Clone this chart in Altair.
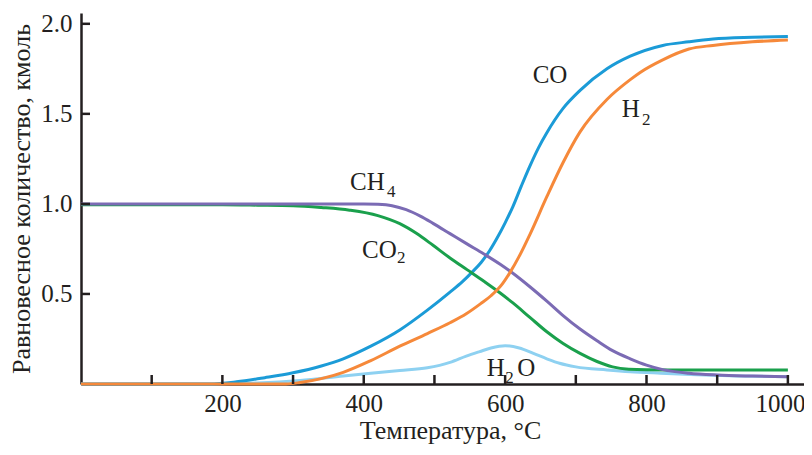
import altair as alt
import pandas as pd

# ---- data (temperature °C, amount kmol) ----
co_T = [0, 100, 182, 220, 260, 300, 340, 371, 410, 451, 490, 522, 540, 553, 566, 578, 590, 600, 611, 623, 635, 647, 659, 682, 706, 744, 777, 823, 860, 894, 950, 1000]
co_v = [0, 0, 0, 0.012, 0.035, 0.062, 0.10, 0.14, 0.21, 0.30, 0.41, 0.51, 0.57, 0.62, 0.675, 0.74, 0.82, 0.895, 0.985, 1.10, 1.21, 1.31, 1.395, 1.53, 1.63, 1.75, 1.82, 1.88, 1.90, 1.915, 1.925, 1.93]

h2_T = [0, 100, 200, 290, 310, 340, 371, 410, 451, 490, 522, 545, 565, 580, 595, 607, 620, 635, 659, 682, 706, 744, 777, 791, 823, 860, 894, 950, 1000]
h2_v = [0, 0, 0, 0, 0.008, 0.03, 0.065, 0.13, 0.21, 0.28, 0.34, 0.39, 0.445, 0.49, 0.55, 0.62, 0.71, 0.83, 1.04, 1.23, 1.40, 1.58, 1.69, 1.73, 1.80, 1.86, 1.88, 1.90, 1.91]

ch4_T = [0, 100, 200, 300, 400, 420, 440, 460, 480, 498, 522, 546, 570, 593, 611, 635, 659, 682, 706, 730, 752, 777, 800, 823, 860, 900, 950, 1000]
ch4_v = [1.0, 1.0, 1.0, 1.0, 1.0, 0.998, 0.99, 0.968, 0.932, 0.892, 0.835, 0.778, 0.722, 0.665, 0.615, 0.54, 0.46, 0.38, 0.305, 0.24, 0.185, 0.14, 0.105, 0.08, 0.06, 0.05, 0.044, 0.04]

co2_T = [0, 100, 200, 250, 300, 340, 380, 420, 451, 475, 498, 522, 546, 570, 593, 611, 635, 659, 682, 706, 730, 752, 775, 800, 850, 1000]
co2_v = [0.995, 0.995, 0.995, 0.993, 0.99, 0.98, 0.965, 0.935, 0.89, 0.835, 0.77, 0.70, 0.635, 0.57, 0.505, 0.45, 0.37, 0.29, 0.225, 0.17, 0.125, 0.095, 0.082, 0.079, 0.078, 0.078]

h2o_T = [0, 150, 200, 250, 310, 371, 410, 451, 490, 522, 545, 564, 580, 600, 620, 640, 659, 677, 700, 744, 777, 820, 871, 930, 1000]
h2o_v = [0, 0, 0.002, 0.006, 0.02, 0.045, 0.06, 0.075, 0.09, 0.12, 0.155, 0.18, 0.20, 0.213, 0.20, 0.17, 0.14, 0.115, 0.095, 0.078, 0.068, 0.06, 0.052, 0.045, 0.04]

# draw order (bottom to top) and colours
series = [
    ("H2O", h2o_T, h2o_v, "#8ed1f1"),
    ("CO", co_T, co_v, "#1b9bd7"),
    ("CO2", co2_T, co2_v, "#1aa04c"),
    ("CH4", ch4_T, ch4_v, "#7b6bb4"),
    ("H2", h2_T, h2_v, "#f6893a"),
]

# labels: text pieces (base + subscript) anchored in data units
lab_text = ["CO", "H", "2", "CH", "4", "CO", "2", "H", "2", "O"]
lab_T    = [639, 765, 793.5, 380.5, 433, 397.5, 447, 574, 600, 617]
lab_v    = [1.672, 1.483, 1.439, 1.078, 1.039, 0.70, 0.672, 0.044, 0.006, 0.044]
lab_size = [25, 25, 17, 25, 17, 25, 17, 25, 17, 25]

x_ticks = [100, 200, 300, 400, 500, 600, 700, 800, 900, 1000]
y_ticks = [0.5, 1.0, 1.5, 2.0]
x_labels = [200, 400, 600, 800, 1000]

INK = "#231f20"
FONT = "Liberation Serif"
W, H = 723, 371

xscale = alt.Scale(domain=[0, 1022.8], nice=False, zero=False)
yscale = alt.Scale(domain=[0, 2.06], nice=False, zero=False)

xaxis = alt.Axis(values=x_labels, format="d", ticks=False, grid=False,
                 title="Температура, °C", labelFont=FONT, labelFontSize=25,
                 labelColor=INK, labelPadding=7, labelFlush=False,
                 labelOffset={"condition": {"test": "datum.value == 1000", "value": -8}, "value": 0},
                 titleFont=FONT, titleFontSize=26, titleFontWeight="normal",
                 titleColor=INK, titlePadding=1, titleX=369,
                 domainColor=INK, domainWidth=2.5)
yaxis = alt.Axis(values=y_ticks, format=".1f", ticks=False, grid=False,
                 title="Равновесное количество, кмоль", labelFont=FONT,
                 labelFontSize=25, labelColor=INK, labelPadding=9,
                 labelFlush=False, titleFont=FONT, titleFontSize=26,
                 titleFontWeight="normal", titleColor=INK, titlePadding=6,
                 domainColor=INK, domainWidth=2.5)

X = lambda: alt.X("T:Q", scale=xscale, axis=xaxis)
Y = lambda: alt.Y("v:Q", scale=yscale, axis=yaxis)

layers = []
for name, Ts, vs, col in series:
    df = pd.DataFrame({"T": Ts, "v": vs})
    layers.append(
        alt.Chart(df).mark_line(color=col, strokeWidth=3, interpolate="monotone")
        .encode(x=X(), y=Y())
    )

xt = alt.Chart(pd.DataFrame({"T": x_ticks})).mark_rule(color=INK, strokeWidth=2.5).encode(
    x=X(), y=alt.value(H), y2=alt.value(H - 9))
yt = alt.Chart(pd.DataFrame({"v": y_ticks})).mark_rule(color=INK, strokeWidth=2.5).encode(
    y=Y(), x=alt.value(0), x2=alt.value(9))

labels = alt.Chart(pd.DataFrame({"t": lab_text, "T": lab_T, "v": lab_v, "s": lab_size})).mark_text(
    align="left", baseline="alphabetic", font=FONT, color=INK).encode(
    x=X(), y=Y(),
    text="t:N",
    size=alt.Size("s:Q", scale=None, legend=None))

chart = alt.layer(*layers, xt, yt, labels).properties(
    width=W, height=H,
    autosize=alt.AutoSizeParams(type="none"),
    padding={"left": 73, "top": 5, "right": 0, "bottom": 62},
).configure_view(stroke=None)

chart.save("out.html", embed_options={"renderer": "svg", "actions": False})
